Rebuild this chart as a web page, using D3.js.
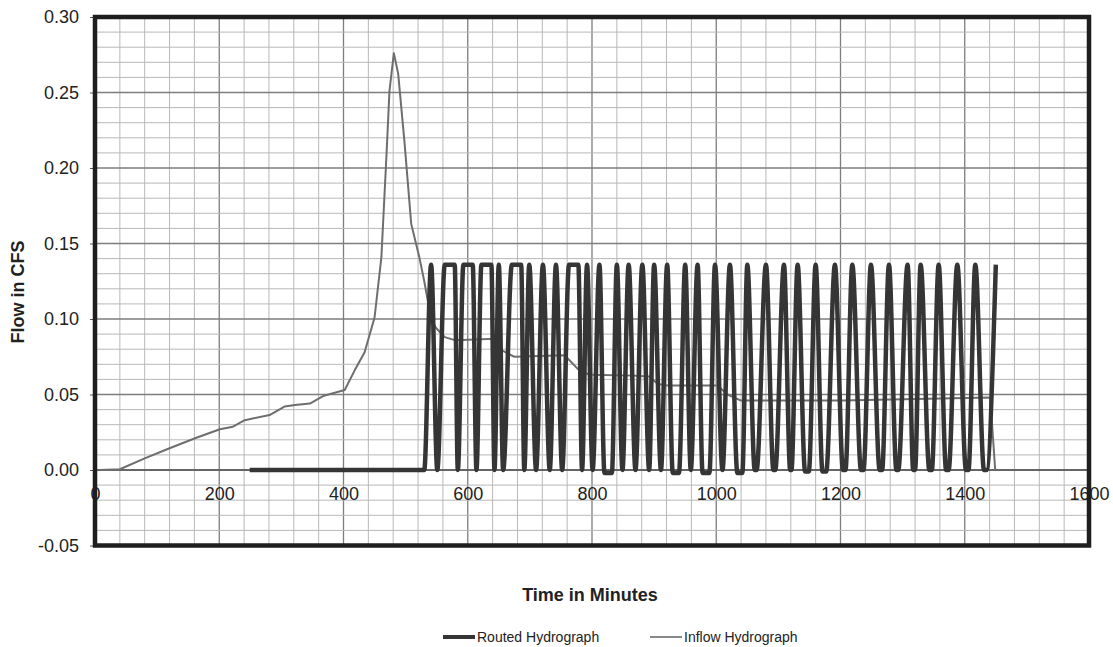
<!DOCTYPE html>
<html>
<head>
<meta charset="utf-8">
<script src="https://cdn.jsdelivr.net/npm/d3@7"></script>
<style>
  body { margin: 0; background: #fff; }
  svg { font-family: "Liberation Sans", Arial, sans-serif; }
</style>
</head>
<body>
<div id="chart"></div>
<script>
// inflow hydrograph (minutes, cfs)
const inflowTime = [8, 40, 80, 120, 161, 201, 222, 241, 281, 305, 322, 346, 367, 402, 418, 434, 450, 461, 469, 474, 481, 488, 498, 509, 522, 530, 541, 549, 563, 579, 643, 656, 675, 756, 777, 796, 866, 892, 906, 922, 1002, 1018, 1040, 1203, 1441, 1449];
const inflowFlow = [0, 0.0005, 0.0077, 0.0144, 0.021, 0.027, 0.0287, 0.033, 0.0364, 0.042, 0.043, 0.044, 0.049, 0.053, 0.066, 0.078, 0.101, 0.141, 0.207, 0.251, 0.276, 0.2625, 0.218, 0.163, 0.141, 0.125, 0.100, 0.094, 0.088, 0.086, 0.087, 0.079, 0.075, 0.076, 0.067, 0.063, 0.0625, 0.062, 0.057, 0.056, 0.056, 0.050, 0.046, 0.046, 0.048, 0];

// routed hydrograph (minutes, cfs)
const routedTime = [249, 530, 541, 551, 563, 579, 584, 593, 608, 614, 622, 638, 643, 650, 657, 671, 686, 691, 699, 710, 721, 732, 742, 752, 763, 778, 784, 792, 801, 812, 820, 832, 840, 849, 859, 870, 881, 892, 900, 911, 921, 930, 940, 950, 959, 970, 978, 989, 998, 1010, 1022, 1034, 1042, 1050, 1062, 1065, 1080, 1092, 1095, 1109, 1119, 1121, 1131, 1143, 1149, 1160, 1171, 1177, 1191, 1204, 1208, 1219, 1233, 1237, 1249, 1263, 1267, 1278, 1290, 1293, 1308, 1317, 1320, 1329, 1343, 1347, 1358, 1370, 1374, 1388, 1402, 1406, 1417, 1431, 1435, 1450];
const routedFlow = [0, 0, 0.136, 0, 0.136, 0.136, 0, 0.136, 0.136, 0, 0.136, 0.136, 0, 0.136, 0, 0.136, 0.136, 0, 0.136, 0, 0.136, 0, 0.136, 0, 0.136, 0.136, 0, 0.136, 0, 0.136, -0.002, -0.002, 0.136, 0, 0.136, 0, 0.136, 0, 0.136, 0, 0.136, -0.002, -0.002, 0.136, 0, 0.136, -0.002, -0.002, 0.136, 0, 0.136, -0.002, -0.002, 0.136, 0, 0, 0.136, 0, 0, 0.136, 0, 0, 0.136, -0.001, -0.001, 0.136, -0.001, -0.001, 0.136, 0, 0, 0.136, 0, 0, 0.136, 0, 0, 0.136, 0, 0, 0.136, 0, 0, 0.136, 0, 0, 0.136, 0, 0, 0.136, 0, 0, 0.136, 0, 0, 0.136];

const xTicks = [0, 200, 400, 600, 800, 1000, 1200, 1400, 1600];
const yTicks = [-0.05, 0, 0.05, 0.10, 0.15, 0.20, 0.25, 0.30];

const width = 1113, height = 647;
const plotLeft = 95, plotRight = 1089, plotTop = 17, plotBottom = 545.5;

const svg = d3.select('#chart')
  .append('svg')
  .attr('width', width)
  .attr('height', height);

const x = d3.scaleLinear().domain([0, 1600]).range([plotLeft, plotRight]);
const y = d3.scaleLinear().domain([-0.05, 0.30]).range([plotBottom, plotTop]);

// grid
const grid = svg.append('g');
d3.range(40, 1600, 40).forEach(t => {
  grid.append('line')
    .attr('x1', x(t)).attr('x2', x(t))
    .attr('y1', plotTop).attr('y2', plotBottom)
    .attr('stroke', t % 200 === 0 ? '#7d7d7d' : '#b8b8b8')
    .attr('stroke-width', t % 200 === 0 ? 1.3 : 1);
});
d3.range(-4, 30).forEach(i => {
  const v = i / 100;
  grid.append('line')
    .attr('x1', plotLeft).attr('x2', plotRight)
    .attr('y1', y(v)).attr('y2', y(v))
    .attr('stroke', i % 5 === 0 ? '#7d7d7d' : '#b8b8b8')
    .attr('stroke-width', i % 5 === 0 ? 1.3 : 1);
});
grid.append('line')
  .attr('x1', plotLeft).attr('x2', plotRight)
  .attr('y1', y(0)).attr('y2', y(0))
  .attr('stroke', '#555').attr('stroke-width', 1.3);

// axes
const yAxis = svg.append('g')
  .attr('transform', `translate(${plotLeft}, 0)`)
  .call(d3.axisLeft(y).tickValues(yTicks).tickSize(5).tickPadding(11).tickFormat(d => d.toFixed(2)));
yAxis.select('.domain').remove();
yAxis.selectAll('text').attr('font-size', 18).attr('fill', '#222');
yAxis.selectAll('line').attr('stroke', '#555');

const xAxis = svg.append('g')
  .attr('transform', `translate(0, ${y(0)})`)
  .call(d3.axisBottom(x).tickValues(xTicks).tickSize(0).tickPadding(17).tickFormat(d3.format('d')));
xAxis.select('.domain').remove();
xAxis.selectAll('text').attr('font-size', 18).attr('fill', '#222');

// series
const inflowLine = d3.line()
  .x((d, i) => x(inflowTime[i]))
  .y((d, i) => y(inflowFlow[i]));
const routedLine = d3.line()
  .curve(d3.curveMonotoneX)
  .x((d, i) => x(routedTime[i]))
  .y((d, i) => y(routedFlow[i]));

svg.append('path')
  .attr('d', inflowLine(inflowTime))
  .attr('fill', 'none')
  .attr('stroke', '#6e6e6e')
  .attr('stroke-width', 2)
  .attr('stroke-linejoin', 'round');

svg.append('path')
  .attr('d', routedLine(routedTime))
  .attr('fill', 'none')
  .attr('stroke', '#353535')
  .attr('stroke-width', 4.5)
  .attr('stroke-linejoin', 'round');

// frame
svg.append('rect')
  .attr('x', plotLeft).attr('y', plotTop)
  .attr('width', plotRight - plotLeft).attr('height', plotBottom - plotTop)
  .attr('fill', 'none')
  .attr('stroke', '#1e1e1e')
  .attr('stroke-width', 4.5);

// titles
svg.append('text')
  .attr('transform', 'translate(24, 292) rotate(-90)')
  .attr('text-anchor', 'middle')
  .attr('font-size', 18)
  .attr('font-weight', 'bold')
  .attr('fill', '#222')
  .text('Flow in CFS');

svg.append('text')
  .attr('x', 590).attr('y', 601)
  .attr('text-anchor', 'middle')
  .attr('font-size', 18)
  .attr('font-weight', 'bold')
  .attr('fill', '#222')
  .text('Time in Minutes');

// legend
const legendData = [
  ['Routed Hydrograph', '#353535', 4, 443],
  ['Inflow Hydrograph', '#888', 2, 650]
];
const legend = svg.append('g').selectAll('g')
  .data(legendData)
  .enter()
  .append('g')
  .attr('transform', d => `translate(${d[3]}, 637)`);
legend.append('line')
  .attr('x1', 0).attr('x2', 32)
  .attr('stroke', d => d[1])
  .attr('stroke-width', d => d[2]);
legend.append('text')
  .attr('x', 34).attr('y', 5)
  .attr('font-size', 14)
  .attr('fill', '#222')
  .text(d => d[0]);
</script>
</body>
</html>
